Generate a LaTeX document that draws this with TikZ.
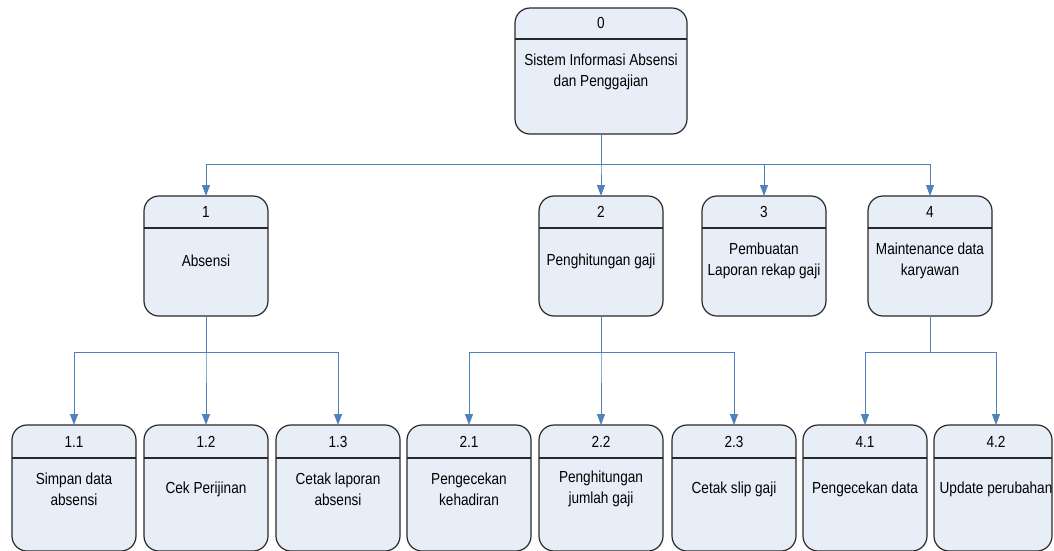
\documentclass[tikz,border=0pt]{standalone}
\usepackage{fontspec}
\setmainfont{Liberation Sans}[FakeStretch=0.85]
\usetikzlibrary{arrows.meta}
\definecolor{boxfill}{RGB}{232,238,248}
\definecolor{boxline}{RGB}{40,40,40}
\definecolor{connblue}{RGB}{79,129,189}
\tikzset{
  procbox/.style={draw=boxline, fill=boxfill, line width=1.2pt, rounded corners=15pt, inner sep=0pt, outer sep=0pt},
  divline/.style={draw=boxline, line width=1.2pt},
  numtext/.style={font=\fontsize{16}{20}\selectfont, inner sep=0pt},
  bodytext/.style={font=\fontsize{16}{21}\selectfont, align=center, inner sep=0pt},
  conn/.style={draw=connblue, line width=1pt, -{Triangle[width=8pt,length=11pt,fill=connblue]}},
}
\begin{document}
\begin{tikzpicture}[x=1pt,y=-1pt]
\useasboundingbox (0,0) rectangle (1054,550);

% ---- level 0
\node[procbox, minimum width=172pt, minimum height=126pt] (p0) at (601,71) {};
\draw[divline] ([yshift=-31pt]p0.north west) -- ([yshift=-31pt]p0.north east);
\node[numtext] (p0n) at (601,23) {0};
\node[bodytext] (p0t) at (601,72) {Sistem Informasi Absensi\\dan Penggajian};

% ---- level 1
\node[procbox, minimum width=124pt, minimum height=120pt] (p1) at (206,256) {};
\node[procbox, minimum width=124pt, minimum height=120pt] (p2) at (601,256) {};
\node[procbox, minimum width=124pt, minimum height=120pt] (p3) at (764,256) {};
\node[procbox, minimum width=124pt, minimum height=120pt] (p4) at (930,256) {};
\foreach \n in {p1,p2,p3,p4}{
  \draw[divline] ([yshift=-32pt]\n.north west) -- ([yshift=-32pt]\n.north east);
}
\node[numtext] (p1n) at (206,212) {1};
\node[numtext] (p2n) at (601,212) {2};
\node[numtext] (p3n) at (764,212) {3};
\node[numtext] (p4n) at (930,212) {4};
\node[bodytext] (p1t) at (206,261) {Absensi};
\node[bodytext] (p2t) at (601,261) {Penghitungan gaji};
\node[bodytext] (p3t) at (764,261) {Pembuatan\\Laporan rekap gaji};
\node[bodytext] (p4t) at (930,261) {Maintenance data\\karyawan};

% ---- level 2
\node[procbox, minimum width=124pt, minimum height=126pt] (p11) at (74,488) {};
\node[procbox, minimum width=124pt, minimum height=126pt] (p12) at (206,488) {};
\node[procbox, minimum width=124pt, minimum height=126pt] (p13) at (338,488) {};
\node[procbox, minimum width=124pt, minimum height=126pt] (p21) at (469,488) {};
\node[procbox, minimum width=124pt, minimum height=126pt] (p22) at (601,488) {};
\node[procbox, minimum width=124pt, minimum height=126pt] (p23) at (734,488) {};
\node[procbox, minimum width=124pt, minimum height=126pt] (p41) at (865,488) {};
\node[procbox, minimum width=118pt, minimum height=126pt] (p42) at (993,488) {};
\foreach \n in {p11,p12,p13,p21,p22,p23,p41,p42}{
  \draw[divline] ([yshift=-33pt]\n.north west) -- ([yshift=-33pt]\n.north east);
}
\node[numtext] (p11n) at (74,442) {1.1};
\node[numtext] (p12n) at (206,442) {1.2};
\node[numtext] (p13n) at (338,442) {1.3};
\node[numtext] (p21n) at (469,442) {2.1};
\node[numtext] (p22n) at (601,442) {2.2};
\node[numtext] (p23n) at (734,442) {2.3};
\node[numtext] (p41n) at (865,442) {4.1};
\node[numtext] (p42n) at (996,442) {4.2};
\node[bodytext] (p11t) at (74,489) {Simpan data\\absensi};
\node[bodytext] (p12t) at (206,489) {Cek Perijinan};
\node[bodytext] (p13t) at (338,489) {Cetak laporan\\absensi};
\node[bodytext] (p21t) at (469,489) {Pengecekan\\kehadiran};
\node[bodytext] (p22t) at (601,489) {Penghitungan\\jumlah gaji};
\node[bodytext] (p23t) at (734,489) {Cetak slip gaji};
\node[bodytext] (p41t) at (865,489) {Pengecekan data};
\node[bodytext] (p42t) at (996,489) {Update perubahan};

% ---- connectors
\coordinate (j0) at (601,164);
\coordinate (j1) at (206,352);
\coordinate (j2) at (601,352);
\coordinate (j4) at (930,352);
\foreach \t in {p1,p2,p3,p4}{ \draw[conn] (p0.south) -- (j0) -| (\t.north); }
\foreach \t in {p11,p12,p13}{ \draw[conn] (p1.south) -- (j1) -| (\t.north); }
\foreach \t in {p21,p22,p23}{ \draw[conn] (p2.south) -- (j2) -| (\t.north); }
\draw[conn] (p4.south) -- (j4) -| (p41.north);
\draw[conn] (p4.south) -- (j4) -| ([xshift=3pt]p42.north);
\end{tikzpicture}
\end{document}
